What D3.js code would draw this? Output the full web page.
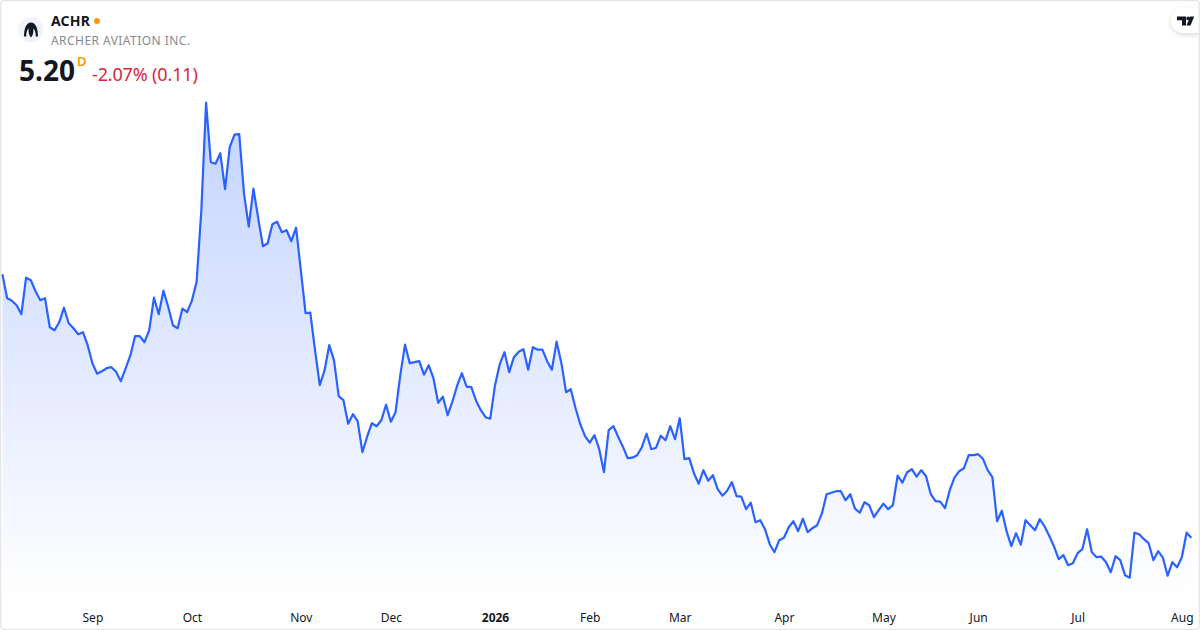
<!DOCTYPE html>
<html>
<head>
<meta charset="utf-8">
<script src="https://cdn.jsdelivr.net/npm/d3@7"></script>
<style>
  html, body { margin: 0; padding: 0; background: #fff; }
  text { font-family: "Noto Sans", "Open Sans", sans-serif; }
</style>
</head>
<body>
<div id="chart"></div>
<script>
// Daily closes
const closes = [
  10.47, 9.99, 9.94, 9.85, 9.67, 10.40, 10.35, 10.13, 9.95, 9.99,
  9.41, 9.35, 9.51, 9.80, 9.49, 9.39, 9.27, 9.31, 9.05, 8.69,
  8.48, 8.53, 8.59, 8.61, 8.52, 8.33, 8.58, 8.84, 9.23, 9.23,
  9.11, 9.35, 10.00, 9.67, 10.14, 9.82, 9.45, 9.39, 9.78, 9.71,
  9.94, 10.32, 11.75, 13.90, 12.71, 12.68, 12.89, 12.17, 13.01, 13.26,
  13.27, 12.09, 11.42, 12.18, 11.59, 11.03, 11.09, 11.47, 11.52, 11.31,
  11.35, 11.13, 11.40, 10.55, 9.69, 9.70, 8.95, 8.25, 8.54, 9.05,
  8.75, 8.03, 7.95, 7.48, 7.67, 7.53, 6.91, 7.22, 7.49, 7.43,
  7.55, 7.86, 7.52, 7.71, 8.45, 9.06, 8.69, 8.71, 8.73, 8.46,
  8.65, 8.39, 7.90, 8.02, 7.65, 7.92, 8.24, 8.49, 8.22, 8.21,
  7.94, 7.75, 7.61, 7.58, 8.25, 8.67, 8.91, 8.51, 8.81, 8.92,
  8.97, 8.56, 9.01, 8.96, 8.96, 8.73, 8.56, 9.12, 8.70, 8.11,
  8.17, 7.79, 7.47, 7.23, 7.10, 7.25, 6.97, 6.51, 7.35, 7.43,
  7.22, 7.02, 6.79, 6.80, 6.85, 7.01, 7.28, 6.97, 7.00, 7.24,
  7.15, 7.43, 7.17, 7.59, 6.77, 6.79, 6.49, 6.28, 6.55, 6.34,
  6.45, 6.17, 6.04, 6.14, 6.31, 6.03, 6.02, 5.77, 5.90, 5.51,
  5.55, 5.37, 5.07, 4.91, 5.15, 5.20, 5.41, 5.53, 5.33, 5.58,
  5.31, 5.39, 5.45, 5.68, 6.07, 6.10, 6.13, 6.13, 5.95, 6.07,
  5.78, 5.70, 5.91, 5.85, 5.61, 5.75, 5.88, 5.77, 5.85, 6.44,
  6.30, 6.51, 6.57, 6.42, 6.55, 6.43, 6.07, 5.93, 5.92, 5.79,
  6.15, 6.40, 6.53, 6.59, 6.85, 6.85, 6.87, 6.78, 6.55, 6.41,
  5.53, 5.74, 5.33, 5.03, 5.29, 5.06, 5.55, 5.45, 5.35, 5.57,
  5.43, 5.24, 5.03, 4.77, 4.85, 4.65, 4.69, 4.89, 4.97, 5.37,
  4.91, 4.81, 4.82, 4.71, 4.51, 4.83, 4.75, 4.45, 4.40, 5.30,
  5.27, 5.17, 5.09, 4.75, 4.93, 4.80, 4.44, 4.71, 4.61, 4.81,
  5.30, 5.20
]

// Month labels and the trading day each one sits on
const tickLabels = ["Sep", "Oct", "Nov", "Dec", "2026", "Feb", "Mar", "Apr", "May", "Jun", "Jul", "Aug"]
const tickDays = [19, 40, 63, 82, 104, 124, 143, 165, 186, 206, 227, 249]

const width = 1200
const height = 630

const svg = d3.select("#chart").append("svg")
    .attr("width", width)
    .attr("height", height)
    .style("display", "block")

const xScale = d3.scaleLinear()
  .domain([0, closes.length - 1])
  .range([2.4, 1191.3])

const yScale = d3.scaleLinear()
  .domain([d3.min(closes), d3.max(closes)])
  .range([577.7, 102.7])

// Area gradient
const defs = svg.append("defs")
const gradient = defs.append("linearGradient")
    .attr("id", "areaFill")
    .attr("gradientUnits", "userSpaceOnUse")
    .attr("x1", 0).attr("x2", 0)
    .attr("y1", 102).attr("y2", 600)
gradient.append("stop").attr("offset", 0).attr("stop-color", "#2962FF").attr("stop-opacity", 0.28)
gradient.append("stop").attr("offset", 1).attr("stop-color", "#2962FF").attr("stop-opacity", 0)

const shadow = defs.append("filter").attr("id", "pillShadow")
    .attr("x", "-30%").attr("y", "-30%").attr("width", "160%").attr("height", "170%")
shadow.append("feDropShadow")
    .attr("dx", 0).attr("dy", 2).attr("stdDeviation", 2.5)
    .attr("flood-color", "#000").attr("flood-opacity", 0.14)

// Area and line
const area = d3.area()
  .x((d, i) => xScale(i))
  .y0(600)
  .y1(d => yScale(d))

const line = d3.line()
  .x((d, i) => xScale(i))
  .y(d => yScale(d))

svg.append("path")
    .datum(closes)
    .attr("d", area)
    .attr("fill", "url(#areaFill)")

svg.append("path")
    .datum(closes)
    .attr("d", line)
    .attr("fill", "none")
    .attr("stroke", "#2962FF")
    .attr("stroke-width", 2.2)
    .attr("stroke-linejoin", "round")

// Time axis
const xAxis = d3.axisBottom(xScale)
  .tickValues(tickDays)
  .tickFormat((d, i) => tickLabels[i])
  .tickSize(0)
  .tickPadding(0)

const axisGroup = svg.append("g")
    .attr("transform", "translate(0,613)")
    .call(xAxis)
axisGroup.select(".domain").remove()
axisGroup.selectAll("text")
    .style("font-family", '"Noto Sans", sans-serif')
    .style("font-size", "12px")
    .style("fill", "#131722")
    .style("font-weight", d => d === 104 ? 700 : 400)

// Symbol logo
const logo = svg.append("g").attr("transform", "translate(31,30)")
logo.append("circle").attr("r", 12.5).attr("fill", "#f0f3fa")
logo.append("path")
    .attr("d", "M0,-7.5 C-4.5,-7.5 -7,-2 -7,6.5 L-4.8,6.5 C-4.8,2.5 -3.8,-0.5 -2.4,-1.5 C-2.6,2.5 -2,5.5 0,7.5 C2,5.5 2.6,2.5 2.4,-1.5 C3.8,-0.5 4.8,2.5 4.8,6.5 L7,6.5 C7,-2 4.5,-7.5 0,-7.5 Z")
    .attr("fill", "#131722")

// Header
svg.append("text").attr("x", 51).attr("y", 26)
    .attr("font-size", 14).attr("font-weight", 700).attr("letter-spacing", 0.2).attr("fill", "#131722")
    .text("ACHR")
svg.append("circle").attr("cx", 97).attr("cy", 21).attr("r", 3).attr("fill", "#ff9800")
svg.append("text").attr("x", 51).attr("y", 45)
    .attr("font-size", 12).attr("letter-spacing", 0.45).attr("fill", "#868993")
    .text("ARCHER AVIATION INC.")
svg.append("text").attr("x", 19).attr("y", 81)
    .attr("font-size", 28).attr("font-weight", 700).attr("fill", "#131722")
    .text("5.20")
svg.append("text").attr("x", 77).attr("y", 66)
    .attr("font-size", 13).attr("font-weight", 600).attr("fill", "#ff9800")
    .text("D")
svg.append("text").attr("x", 92).attr("y", 81)
    .attr("font-size", 18).attr("letter-spacing", -0.15).attr("fill", "#d9263c")
    .text("-2.07% (0.11)")

// Watermark pill
svg.append("rect")
    .attr("x", 1171).attr("y", 8).attr("width", 50).attr("height", 25).attr("rx", 12.5)
    .attr("fill", "#fff")
    .attr("filter", "url(#pillShadow)")
const mark = svg.append("g").attr("transform", "translate(1177,16.5)")
mark.append("path").attr("d", "M0,0 H9 V9 H5 V3.7 H0 Z").attr("fill", "#131722")
mark.append("circle").attr("cx", 11.2).attr("cy", 1.9).attr("r", 1.9).attr("fill", "#131722")
mark.append("path").attr("d", "M13.2,0 H17.2 L13.5,9 H9.5 Z").attr("fill", "#131722")

// Card border, on top so the pill is clipped by it
svg.append("rect")
    .attr("x", 0.5).attr("y", 0.5).attr("width", width - 1).attr("height", height - 1).attr("rx", 4)
    .attr("fill", "none")
    .attr("stroke", "#e6e6e6")
    .attr("stroke-width", 1.5)
</script>
</body>
</html>
